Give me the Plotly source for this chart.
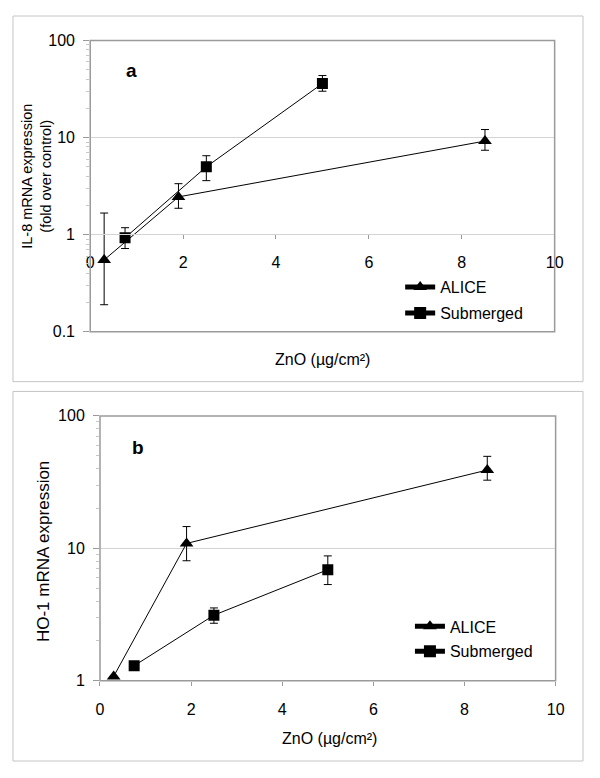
import plotly.graph_objects as go

# ---- data ----
# panel a: IL-8 mRNA (fold over control)
a_alice_x = [0.3, 1.9, 8.5]
a_alice_y = [0.55, 2.45, 9.2]
a_alice_up = [1.67, 3.35, 12.1]
a_alice_lo = [0.19, 1.87, 7.4]

a_sub_x = [0.75, 2.5, 5.0]
a_sub_y = [0.93, 5.0, 36.0]
a_sub_up = [1.18, 6.5, 43.5]
a_sub_lo = [0.72, 3.6, 30.0]

# panel b: HO-1 mRNA
b_alice_x = [0.3, 1.9, 8.5]
b_alice_y = [1.08, 10.9, 39.0]
b_alice_up = [1.08, 14.6, 49.5]
b_alice_lo = [1.08, 8.06, 32.7]

b_sub_x = [0.75, 2.5, 5.0]
b_sub_y = [1.3, 3.13, 6.9]
b_sub_up = [1.3, 3.55, 8.77]
b_sub_lo = [1.3, 2.72, 5.33]

x_ticks = [0, 2, 4, 6, 8, 10]
a_y_ticks = [0.1, 1, 10, 100]
b_y_ticks = [1, 10, 100]
series_names = ["ALICE", "Submerged"]

FONT = "Liberation Sans, Arial, sans-serif"
# page body has an 8px default margin; size the figure so the page is exactly 600x778
OFF = 8
W, H = 600 - 2 * OFF, 778 - 2 * OFF
GRID = "#d4d4d4"
AXC = "#9a9a9a"

def px(x):
    return (x - OFF) / W

def py(y):
    return 1 - (y - OFF) / H

def err(y, up, lo):
    return dict(type="data", symmetric=False,
                array=[u - v for u, v in zip(up, y)],
                arrayminus=[v - l for v, l in zip(y, lo)],
                color="black", thickness=1, width=4)

fig = go.Figure()

def add_series(x, y, up, lo, name, symbol, size, xa, ya, legend, grp):
    fig.add_trace(go.Scatter(
        x=x, y=y, mode="lines+markers", name=name,
        line=dict(color="black", width=1),
        marker=dict(symbol=symbol, size=size, color="black"),
        error_y=err(y, up, lo),
        xaxis=xa, yaxis=ya, legend=legend, legendgroup=grp, showlegend=True))

add_series(a_alice_x, a_alice_y, a_alice_up, a_alice_lo, series_names[0], "triangle-up", 12, "x", "y", "legend", "a1")
add_series(a_sub_x, a_sub_y, a_sub_up, a_sub_lo, series_names[1], "square", 11, "x", "y", "legend", "a2")
add_series(b_alice_x, b_alice_y, b_alice_up, b_alice_lo, series_names[0], "triangle-up", 12, "x2", "y2", "legend2", "b1")
add_series(b_sub_x, b_sub_y, b_sub_up, b_sub_lo, series_names[1], "square", 11, "x2", "y2", "legend2", "b2")

# plot area positions (page pixels)
A = dict(l=88, r=563, t=33, b=331)
B = dict(l=98, r=564, t=417, b=688)

tickfont = dict(family=FONT, size=16, color="black")

fig.update_layout(
    width=W, height=H,
    margin=dict(l=0, r=0, t=0, b=0),
    paper_bgcolor="white", plot_bgcolor="white",
    font=dict(family=FONT, size=16, color="black"),
    xaxis=dict(domain=[px(A["l"]), px(A["r"])], range=[0, 10], tickvals=x_ticks,
               anchor="free", position=py(231), showgrid=False, zeroline=False,
               showline=True, linecolor=GRID, linewidth=1,
               ticks="outside", ticklen=4, tickcolor=AXC, tickfont=tickfont,
               ticklabelstandoff=10),
    yaxis=dict(domain=[py(A["b"]), py(A["t"])], type="log", range=[-1, 2],
               tickvals=a_y_ticks, ticktext=["0.1", "1", "10", "100"],
               anchor="x", showgrid=True, gridcolor=GRID, gridwidth=1, zeroline=False,
               showline=False, ticks="outside", ticklen=6, tickcolor=AXC,
               tickfont=tickfont, ticklabelstandoff=5,
               minor=dict(ticks="outside", ticklen=3, tickcolor="#c8c8c8", dtick="D1", showgrid=False)),
    xaxis2=dict(domain=[px(B["l"]), px(B["r"])], range=[0, 10], tickvals=x_ticks,
                anchor="y2", showgrid=False, zeroline=False, showline=False,
                ticks="outside", ticklen=4, tickcolor=AXC, tickfont=tickfont,
                ticklabelstandoff=10),
    yaxis2=dict(domain=[py(B["b"]), py(B["t"])], type="log", range=[0, 2],
                tickvals=b_y_ticks, ticktext=["1", "10", "100"],
                anchor="x2", showgrid=True, gridcolor=GRID, gridwidth=1, zeroline=False,
                showline=False, ticks="outside", ticklen=6, tickcolor=AXC,
                tickfont=tickfont, ticklabelstandoff=5,
                minor=dict(ticks="outside", ticklen=3, tickcolor="#c8c8c8", dtick="D1", showgrid=False)),
    legend=dict(x=px(405), y=py(268), xanchor="left", yanchor="top",
                bgcolor="rgba(0,0,0,0)", font=dict(family=FONT, size=16),
                tracegroupgap=2, itemsizing="constant"),
    legend2=dict(x=px(415), y=py(615), xanchor="left", yanchor="top",
                 bgcolor="rgba(0,0,0,0)", font=dict(family=FONT, size=16),
                 tracegroupgap=1, itemsizing="constant"),
)

shapes = []
# outer panel boxes
shapes.append(dict(type="rect", xref="paper", yref="paper", x0=px(9), x1=px(592), y0=py(382), y1=py(8),
                   line=dict(color="#c4c4c4", width=1)))
shapes.append(dict(type="rect", xref="paper", yref="paper", x0=px(9), x1=px(592), y0=py(770), y1=py(392),
                   line=dict(color="#c4c4c4", width=1)))
# plot area borders
shapes.append(dict(type="rect", xref="x domain", yref="y domain", x0=0, x1=1, y0=0, y1=1,
                   line=dict(color=AXC, width=1.5), layer="above"))
shapes.append(dict(type="rect", xref="x2 domain", yref="y2 domain", x0=0, x1=1, y0=0, y1=1,
                   line=dict(color=AXC, width=1.5), layer="above"))
fig.update_layout(shapes=shapes)

def note(text, x, y, size, angle=0):
    return dict(text=text, x=px(x), y=py(y), xref="paper", yref="paper", showarrow=False,
                xanchor="center", yanchor="middle", textangle=angle,
                font=dict(family=FONT, size=size, color="black"))

ann = [
    note("<b>a</b>", 130, 64, 19),
    note("<b>b</b>", 137, 449, 19),
    note("IL-8 mRNA expression<br>(fold over control)", 33, 172, 14.5, -90),
    note("HO-1 mRNA expression", 40, 556, 17, -90),
    note("ZnO (µg/cm²)", 326, 359, 16),
    note("ZnO (µg/cm²)", 333, 747, 16),
]
fig.update_layout(annotations=ann)

fig.write_html("out.html")
